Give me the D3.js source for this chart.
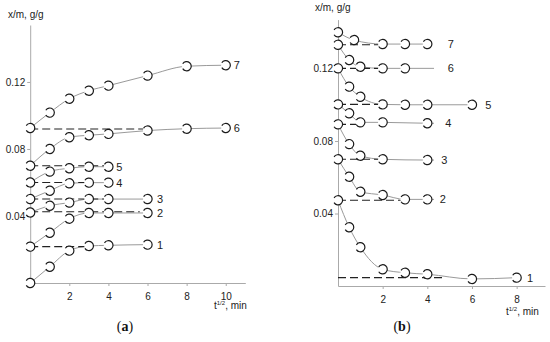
<!DOCTYPE html>
<html>
<head>
<meta charset="utf-8">
<script src="https://cdn.jsdelivr.net/npm/d3@7"></script>
<style>
  body { margin: 0; background: #fff; }
  svg { display: block; font-family: "Liberation Sans", Arial, sans-serif; }
</style>
</head>
<body>
<svg id="chart" width="550" height="342"></svg>
<script>
// (a) sorption, t^1/2 in min^1/2, x/m in g/g
var aX = [
  [0, 1, 2, 3, 4, 6],
  [0, 1, 2, 3, 4, 6],
  [0, 1, 2, 3, 4, 6],
  [0, 1, 2, 3, 4],
  [0, 1, 2, 3, 4],
  [0, 1, 2, 3, 4, 6, 8, 10],
  [0, 1, 2, 3, 4, 6, 8, 10]
];
var aY = [
  [0, 0.0097, 0.0193, 0.0221, 0.0225, 0.0229],
  [0.0217, 0.030, 0.0384, 0.0418, 0.0418, 0.0418],
  [0.0421, 0.0461, 0.048, 0.0501, 0.0501, 0.0501],
  [0.0501, 0.0551, 0.0595, 0.0599, 0.0599],
  [0.060, 0.0665, 0.0685, 0.0694, 0.0694],
  [0.070, 0.080, 0.087, 0.0882, 0.089, 0.091, 0.0921, 0.0925],
  [0.0925, 0.1017, 0.110, 0.1148, 0.1178, 0.1238, 0.1294, 0.130]
];
var aDashLevel = [0.0217, 0.0425, 0.0501, 0.060, 0.070, 0.0919, null];
var aDashEnd = [3, 5.6, 4, 3, 4, 6, null];
var aLabelX = [6.64, 6.64, 6.64, 4.56, 4.56, 10.56, 10.56];

// (b) desorption
var bX = [
  [0, 0.5, 1, 2, 3, 4, 6, 8],
  [0, 0.5, 1, 2, 3, 4],
  [0, 0.5, 1, 2, 4],
  [0, 0.5, 1, 2, 4],
  [0, 0.5, 1, 2, 3, 4, 6],
  [0, 0.5, 1, 2, 3],
  [0, 0.72, 2, 3, 4]
];
var bY = [
  [0.0473, 0.0324, 0.0214, 0.0092, 0.0073, 0.0065, 0.0039, 0.0046],
  [0.0699, 0.0603, 0.052, 0.0502, 0.0478, 0.0478],
  [0.0892, 0.0783, 0.0719, 0.0699, 0.0695],
  [0.1002, 0.0953, 0.0903, 0.0903, 0.0898],
  [0.1201, 0.110, 0.1044, 0.1002, 0.100, 0.100, 0.100],
  [0.1331, 0.1247, 0.121, 0.1201, 0.1201],
  [0.140, 0.1357, 0.1335, 0.1335, 0.1335]
];
var bTail = [null, 4.3, 4.3, 4.3, null, 4.3, null];
var bDashLevel = [0.0046, 0.0473, 0.0699, 0.0892, 0.1002, 0.1201, 0.1331];
var bDashEnd = [4.7, 3, 2, 1, 2, 2, 2];
var bLabelX = [8.6, 4.69, 4.76, 4.94, 6.73, 5.05, 5.05];

var curveNames = ["1", "2", "3", "4", "5", "6", "7"];
var aTicksX = [2, 4, 6, 8, 10];
var bTicksX = [2, 4, 6, 8];
var ticksY = [0.04, 0.08, 0.12];

var svg = d3.select("#chart");

function marker(g, cx, cy) {
  var r = 4.6, gap = 0.55;
  g.append("circle").attr("cx", cx).attr("cy", cy).attr("r", r).attr("fill", "#fff");
  var a1 = Math.PI + gap, a2 = Math.PI - gap;
  g.append("path")
    .attr("d", "M" + (cx + r * Math.cos(a1)) + "," + (cy + r * Math.sin(a1)) +
      " A" + r + "," + r + " 0 1 1 " + (cx + r * Math.cos(a2)) + "," + (cy + r * Math.sin(a2)))
    .attr("fill", "none").attr("stroke", "#1a1a1a").attr("stroke-width", 1.2);
}

function panel(opt) {
  var x = d3.scaleLinear().domain(opt.xDomain).range(opt.xRange);
  var y = d3.scaleLinear().domain(opt.yDomain).range(opt.yRange);
  var g = svg.append("g");

  var xAxis = g.append("g").attr("transform", "translate(0," + opt.yRange[0] + ")")
    .call(d3.axisBottom(x).tickValues(opt.ticksX).tickSize(3).tickSizeOuter(0));
  var yAxis = g.append("g").attr("transform", "translate(" + opt.xRange[0] + ",0)")
    .call(d3.axisLeft(y).tickValues(ticksY).tickSize(3).tickSizeOuter(0).tickFormat(d3.format(".2f")));
  [xAxis, yAxis].forEach(function (ax) {
    ax.select(".domain").attr("stroke", "#aaa");
    ax.selectAll(".tick line").attr("stroke", "#aaa");
    ax.selectAll(".tick text").attr("fill", "#222").style("font-size", "10px")
      .style("font-family", "Liberation Sans, Arial, sans-serif");
  });
  xAxis.selectAll(".tick text").attr("dy", "1.05em");
  yAxis.selectAll(".tick text").attr("x", -5);

  var line = d3.line().x(function (d) { return x(d[0]); }).y(function (d) { return y(d[1]); })
    .curve(d3.curveMonotoneX);

  opt.xs.forEach(function (xs, i) {
    var pts = xs.map(function (v, j) { return [v, opt.ys[i][j]]; });
    var last = pts[pts.length - 1];
    var tail = opt.tail ? opt.tail[i] : null;
    if (tail) pts.push([tail, last[1]]);
    g.append("path").attr("d", line(pts)).attr("fill", "none")
      .attr("stroke", "#9a9a9a").attr("stroke-width", 1);
  });

  opt.dashLevel.forEach(function (lv, i) {
    if (lv == null) return;
    g.append("line")
      .attr("x1", x(0)).attr("x2", x(opt.dashEnd[i]))
      .attr("y1", y(lv)).attr("y2", y(lv))
      .attr("stroke", "#222").attr("stroke-width", 1.1).attr("stroke-dasharray", "8,4");
  });

  opt.xs.forEach(function (xs, i) {
    xs.forEach(function (v, j) { marker(g, x(v), y(opt.ys[i][j])); });
    var lastY = opt.ys[i][opt.ys[i].length - 1];
    g.append("text").attr("x", x(opt.labelX[i])).attr("y", y(lastY) + 4)
      .attr("text-anchor", "middle").attr("fill", "#222").style("font-size", "11px")
      .text(curveNames[i]);
  });

  g.append("text").attr("x", opt.yLabel[0]).attr("y", opt.yLabel[1])
    .attr("fill", "#222").style("font-size", "10px").text("x/m, g/g");
  var t = g.append("text").attr("x", opt.xLabel[0]).attr("y", opt.xLabel[1])
    .attr("fill", "#222").style("font-size", "10px");
  t.append("tspan").text("t");
  t.append("tspan").attr("dy", -4).style("font-size", "6px").text("1/2");
  t.append("tspan").attr("dy", 4).text(", min");

  var cap = g.append("text").attr("x", opt.cap[0]).attr("y", opt.cap[1])
    .attr("text-anchor", "middle").attr("fill", "#111")
    .style("font-family", "Liberation Serif, serif").style("font-size", "14px");
  cap.append("tspan").text("(");
  cap.append("tspan").style("font-weight", "bold").text(opt.capText);
  cap.append("tspan").text(")");
}

panel({
  xDomain: [0, 11], xRange: [30.2, 245.3],
  yDomain: [0, 0.154], yRange: [283, 25],
  ticksX: aTicksX, xs: aX, ys: aY,
  dashLevel: aDashLevel, dashEnd: aDashEnd, labelX: aLabelX,
  yLabel: [8, 18], xLabel: [214, 309], cap: [125, 331], capText: "a"
});

panel({
  xDomain: [0, 9.27], xRange: [338, 545],
  yDomain: [0, 0.147], yRange: [286, 19.6],
  ticksX: bTicksX, xs: bX, ys: bY, tail: bTail,
  dashLevel: bDashLevel, dashEnd: bDashEnd, labelX: bLabelX,
  yLabel: [315, 11], xLabel: [506, 315], cap: [402, 331], capText: "b"
});
</script>
</body>
</html>
